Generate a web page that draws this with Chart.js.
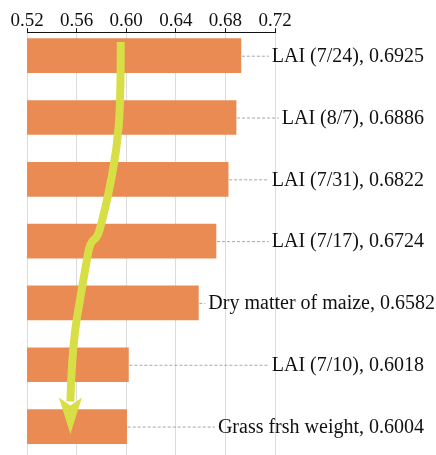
<!DOCTYPE html>
<html>
<head>
<meta charset="utf-8">
<script src="https://cdn.jsdelivr.net/npm/chart.js@4"></script>
<style>
  html, body { margin: 0; padding: 0; background: #fff; }
  #wrap { width: 436px; height: 455px; }
</style>
</head>
<body>
<div id="wrap"><canvas id="corrChart"></canvas></div>
<script>
// categories (top to bottom) and their values
const categories = [
  "LAI (7/24)",
  "LAI (8/7)",
  "LAI (7/31)",
  "LAI (7/17)",
  "Dry matter of maize",
  "LAI (7/10)",
  "Grass frsh weight"
];
const values = [0.6925, 0.6886, 0.6822, 0.6724, 0.6582, 0.6018, 0.6004];
const xTicks = [0.52, 0.56, 0.60, 0.64, 0.68, 0.72];

// trend arrow, in data units: [value, category index]
const arrowPath = [
  [0.5956, -0.22], [0.5956, 0.72], [0.5924, 1.53], [0.5852, 2.29],
  [0.5787, 2.82], [0.5763, 2.94], [0.5707, 3.03], [0.5675, 3.39],
  [0.5626, 3.96], [0.5586, 4.44], [0.5562, 5.01], [0.5550, 5.53]
];
const arrowTip = [0.5550, 6.12];
const arrowHalfWidth = 0.0093;

const serif = "\"Liberation Serif\", \"Times New Roman\", Times, serif";

const labelPlugin = {
  id: "barLabels",
  afterDatasetsDraw(chart) {
    const ctx = chart.ctx;
    const meta = chart.getDatasetMeta(0);
    ctx.save();
    ctx.font = "20px " + serif;
    ctx.textBaseline = "middle";
    ctx.textAlign = "left";
    meta.data.forEach((bar, i) => {
      const text = categories[i] + ", " + values[i].toFixed(4);
      const w = ctx.measureText(text).width;
      const startX = Math.max(bar.x + 10, 424 - w);
      ctx.strokeStyle = "#a6a6a6";
      ctx.lineWidth = 1;
      ctx.setLineDash([3, 2]);
      ctx.beginPath();
      ctx.moveTo(bar.x + 1, bar.y + 0.5);
      ctx.lineTo(startX - 3, bar.y + 0.5);
      ctx.stroke();
      ctx.setLineDash([]);
      ctx.fillStyle = "#111";
      ctx.fillText(text, startX, bar.y + 1);
    });
    ctx.restore();
  }
};

const arrowPlugin = {
  id: "trendArrow",
  afterDatasetsDraw(chart) {
    const ctx = chart.ctx;
    const xs = chart.scales.x, ys = chart.scales.y;
    const pts = arrowPath.map(p => [xs.getPixelForValue(p[0]), ys.getPixelForValue(p[1])]);
    ctx.save();
    ctx.strokeStyle = "#d8de46";
    ctx.fillStyle = "#d8de46";
    ctx.lineWidth = 8;
    ctx.lineCap = "butt";
    ctx.lineJoin = "round";
    ctx.beginPath();
    ctx.moveTo(pts[0][0], pts[0][1]);
    for (let i = 1; i < pts.length - 1; i++) {
      const mx = (pts[i][0] + pts[i + 1][0]) / 2;
      const my = (pts[i][1] + pts[i + 1][1]) / 2;
      ctx.quadraticCurveTo(pts[i][0], pts[i][1], mx, my);
    }
    const last = pts[pts.length - 1];
    ctx.lineTo(last[0], last[1] + 4);
    ctx.stroke();
    // head
    const tipX = xs.getPixelForValue(arrowTip[0]);
    const tipY = ys.getPixelForValue(arrowTip[1]);
    const baseY = last[1];
    const hw = xs.getPixelForValue(arrowTip[0] + arrowHalfWidth) - tipX;
    ctx.beginPath();
    ctx.moveTo(tipX - hw, baseY);
    ctx.lineTo(tipX, baseY + 8);
    ctx.lineTo(tipX + hw, baseY);
    ctx.lineTo(tipX, tipY);
    ctx.closePath();
    ctx.fill();
    ctx.restore();
  }
};

const ctx = document.getElementById("corrChart").getContext("2d");
const corrChart = new Chart(ctx, {
  type: "bar",
  data: {
    datasets: [{
      data: values.map((v, i) => ({ x: v, y: i })),
      backgroundColor: "#e98b52",
      borderWidth: 0,
      barThickness: 34
    }]
  },
  options: {
    indexAxis: "y",
    responsive: true,
    maintainAspectRatio: false,
    animation: false,
    layout: { padding: { left: 27, right: 161, top: 13, bottom: 0 } },
    plugins: { legend: { display: false }, tooltip: { enabled: false } },
    scales: {
      x: {
        type: "linear",
        position: "top",
        min: 0.52,
        max: 0.72,
        afterBuildTicks: axis => { axis.ticks = xTicks.map(v => ({ value: v })); },
        ticks: {
          color: "#111",
          padding: 0,
          font: { family: serif, size: 19, lineHeight: 0.8 },
          callback: v => v.toFixed(2)
        },
        grid: { color: "#dcdcdc", lineWidth: 1, tickColor: "#111", tickLength: 4 },
        border: { display: true, color: "#111", width: 1 }
      },
      y: {
        type: "linear",
        reverse: true,
        offset: false,
        min: -0.38,
        max: 6.46,
        display: false
      }
    }
  },
  plugins: [labelPlugin, arrowPlugin]
});
</script>
</body>
</html>
